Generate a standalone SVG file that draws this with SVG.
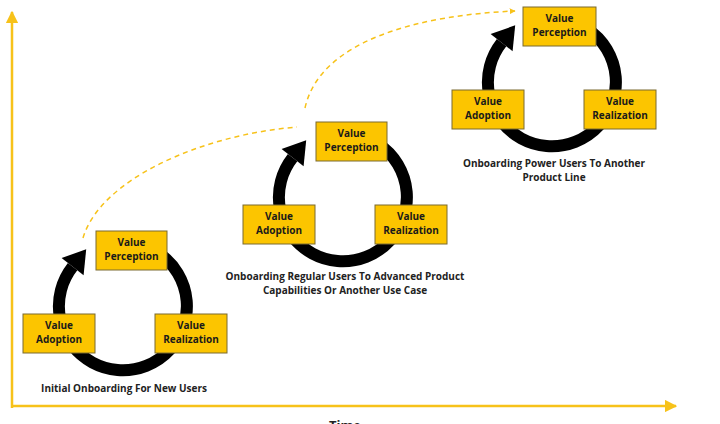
<svg xmlns="http://www.w3.org/2000/svg" width="720" height="424" viewBox="0 0 720 424">
<style>
.box{fill:#FCC500;stroke:#7a6a30;stroke-width:1}
.bt{font-family:"Open Sans","Liberation Sans",sans-serif;font-weight:bold;font-size:10px;fill:#1a1a1a;text-anchor:middle}
.lab{font-family:"Open Sans","Liberation Sans",sans-serif;font-weight:bold;font-size:10px;fill:#222;text-anchor:middle}
.ring{fill:none;stroke:#000;stroke-width:12}
.axis{stroke:#F7C21A;stroke-width:2.5;fill:none}
.dash{stroke:#F7C21A;stroke-width:1.5;fill:none;stroke-dasharray:5 4}
</style>
<defs>
<marker id="ah" viewBox="0 0 10 10" refX="9" refY="5" markerWidth="5" markerHeight="5" orient="auto"><path d="M0,0L10,5L0,10z" fill="#F7C21A"/></marker>
<marker id="ah2" viewBox="0 0 10 10" refX="9" refY="5" markerWidth="4" markerHeight="4" orient="auto"><path d="M0,0L10,5L0,10z" fill="#F7C21A"/></marker>
</defs>
<rect width="720" height="424" fill="#fff"/>
<g id="connectors">
<path class="axis" d="M12,408V12" marker-end="url(#ah)"/>
<path class="axis" d="M12,406H676" marker-end="url(#ah)"/>
<path class="dash" d="M83,238 C100,180 200,135 297,127"/>
<path class="dash" d="M305,108 C320,40 420,15 515,11" marker-end="url(#ah2)"/>
</g>
<g id="cycle1">
<path class="ring" d="M133.1,243 A64,64 0 1 1 72.6,266.6"/>
<polygon points="86.2,249.3 83.6,275.2 61.6,258" fill="#000"/>
<g id="c1-perception"><rect class="box" x="96" y="231" width="71" height="39"/><text class="bt" x="131.5" y="246">Value</text><text class="bt" x="131.5" y="259.5">Perception</text></g>
<g id="c1-adoption"><rect class="box" x="23" y="314" width="72" height="39"/><text class="bt" x="59" y="329">Value</text><text class="bt" x="59" y="342.5">Adoption</text></g>
<g id="c1-realization"><rect class="box" x="155" y="314" width="72" height="39"/><text class="bt" x="191" y="329">Value</text><text class="bt" x="191" y="342.5">Realization</text></g>
<text class="lab" x="124" y="392">Initial Onboarding For New Users</text>
</g>
<g id="cycle2" transform="translate(220,-109)">
<path class="ring" d="M133.1,243 A64,64 0 1 1 72.6,266.6"/>
<polygon points="86.2,249.3 83.6,275.2 61.6,258" fill="#000"/>
<g id="c2-perception"><rect class="box" x="96" y="231" width="71" height="39"/><text class="bt" x="131.5" y="246">Value</text><text class="bt" x="131.5" y="259.5">Perception</text></g>
<g id="c2-adoption"><rect class="box" x="23" y="314" width="72" height="39"/><text class="bt" x="59" y="329">Value</text><text class="bt" x="59" y="342.5">Adoption</text></g>
<g id="c2-realization"><rect class="box" x="155" y="314" width="72" height="39"/><text class="bt" x="191" y="329">Value</text><text class="bt" x="191" y="342.5">Realization</text></g>
<text class="lab" x="125" y="389">Onboarding Regular Users To Advanced Product</text>
<text class="lab" x="125" y="403">Capabilities Or Another Use Case</text>
</g>
<g id="cycle3" transform="translate(429,-224)">
<path class="ring" d="M133.1,243 A64,64 0 1 1 72.6,266.6"/>
<polygon points="86.2,249.3 83.6,275.2 61.6,258" fill="#000"/>
<g id="c3-perception"><rect class="box" x="94" y="231" width="73" height="39"/><text class="bt" x="130.5" y="246">Value</text><text class="bt" x="130.5" y="259.5">Perception</text></g>
<g id="c3-adoption"><rect class="box" x="23" y="314" width="72" height="39"/><text class="bt" x="59" y="329">Value</text><text class="bt" x="59" y="342.5">Adoption</text></g>
<g id="c3-realization"><rect class="box" x="155" y="314" width="72" height="39"/><text class="bt" x="191" y="329">Value</text><text class="bt" x="191" y="342.5">Realization</text></g>
<text class="lab" x="125" y="391">Onboarding Power Users To Another</text>
<text class="lab" x="125" y="405">Product Line</text>
</g>
<text class="lab" x="345" y="430" style="font-size:13px">Time</text>
</svg>
